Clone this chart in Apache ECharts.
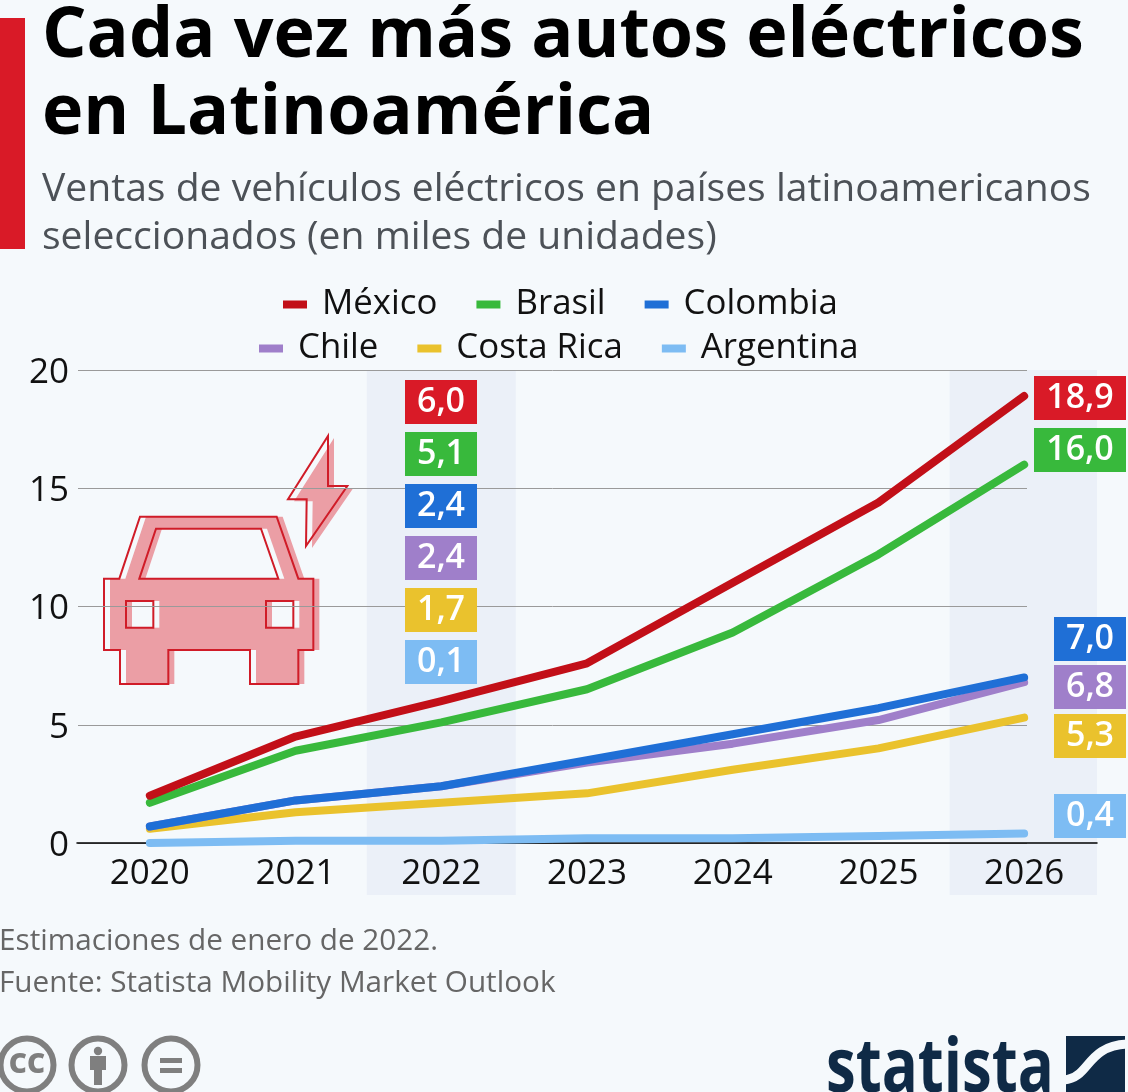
<!DOCTYPE html>
<html>
<head>
<meta charset="utf-8">
<style>html,body{margin:0;padding:0;background:#f5f9fc}#main{width:1128px;height:1092px}</style>
<script src="https://cdn.jsdelivr.net/npm/echarts@6/dist/echarts.min.js"></script>
</head>
<body>
<div id="main"></div>
<script>
const years = ['2020', '2021', '2022', '2023', '2024', '2025', '2026'];
const mexico = [2.0, 4.5, 6.0, 7.6, 11.0, 14.4, 18.9];
const brasil = [1.7, 3.9, 5.1, 6.5, 8.9, 12.2, 16.0];
const colombia = [0.7, 1.8, 2.4, 3.5, 4.6, 5.7, 7.0];
const chile = [0.7, 1.8, 2.4, 3.4, 4.2, 5.2, 6.8];
const costaRica = [0.6, 1.3, 1.7, 2.1, 3.1, 4.0, 5.3];
const argentina = [0.0, 0.1, 0.1, 0.2, 0.2, 0.3, 0.4];
const highlighted = [0, 0, 1, 0, 0, 0, 1];

const FONT = '"Open Sans"';
const BG = '#f5f9fc';
const list = [
  { name: 'Argentina', data: argentina, line: '#7dbcf3', box: '#7dbcf3' },
  { name: 'Costa Rica', data: costaRica, line: '#eac22d', box: '#eac22d' },
  { name: 'Chile', data: chile, line: '#9f7fca', box: '#9f7fca' },
  { name: 'Colombia', data: colombia, line: '#1f6fd6', box: '#1f6fd6' },
  { name: 'Brasil', data: brasil, line: '#38b93c', box: '#38b93c' },
  { name: 'México', data: mexico, line: '#c20f18', box: '#d91a27' }
];
const boxes2022 = ['México', 'Brasil', 'Colombia', 'Chile', 'Costa Rica', 'Argentina'];
const boxes2026 = [['México', 376, 92], ['Brasil', 428, 92], ['Colombia', 617, 72], ['Chile', 665, 72], ['Costa Rica', 714, 72], ['Argentina', 794, 72]];

const fmt = v => v.toFixed(1).replace('.', ',');
const byName = n => list.find(s => s.name === n);

function box(x, y, w, name, idx) {
  const s = byName(name);
  return {
    type: 'rect', z: 10, shape: { x: x, y: y, width: w, height: 44 }, style: { fill: s.box },
    textContent: { z: 11, style: { text: fmt(s.data[idx]), fill: '#fff', font: '600 34px ' + FONT } },
    textConfig: { position: 'inside' }
  };
}

// car icon, points in 3x crop coordinates
const car = (dx, dy) => [[42,476],[88,476],[150,290],[560,290],[625,476],[670,476],[670,690],[625,690],[625,792],[480,792],[480,690],[235,690],[235,792],[90,792],[90,690],[42,690]].map(p => [90 + (p[0] + dx) / 3, 420 + (p[1] + dy) / 3]);
const win = (dx, dy) => [[148,476],[198,326],[513,326],[565,476]].map(p => [90 + (p[0] + dx) / 3, 420 + (p[1] + dy) / 3]);
const bolt = (dx, dy) => [[714,48],[714,198],[772,198],[648,378],[650,238],[594,238]].map(p => [90 + (p[0] + dx) / 3, 420 + (p[1] + dy) / 3]);
const sq = (x, dx) => ({ x: 90 + (x + dx) / 3, y: 420 + 543 / 3, width: 82 / 3, height: 80 / 3 });
const PINK = '#eb9ea5', RED = '#d01c28', GREY = '#7f7f7f', NAVY = '#0f2a46';
const iconZ = -3;

const graphics = [
  { type: 'rect', shape: { x: 0, y: 18, width: 25, height: 231 }, style: { fill: '#d91a27' } },
  { type: 'polygon', z: iconZ, shape: { points: car(18, 0) }, style: { fill: PINK } },
  { type: 'polygon', z: iconZ, shape: { points: win(18, 0) }, style: { fill: BG } },
  { type: 'rect', z: iconZ, shape: sq(108, 18), style: { fill: BG } },
  { type: 'rect', z: iconZ, shape: sq(528, 18), style: { fill: BG } },
  { type: 'polygon', z: iconZ, shape: { points: bolt(18, 6) }, style: { fill: PINK } },
  { type: 'polygon', z: iconZ, shape: { points: car(0, 0) }, style: { fill: 'none', stroke: RED, lineWidth: 2 } },
  { type: 'polygon', z: iconZ, shape: { points: win(0, 0) }, style: { fill: 'none', stroke: RED, lineWidth: 2 } },
  { type: 'rect', z: iconZ, shape: sq(108, 0), style: { fill: 'none', stroke: RED, lineWidth: 2 } },
  { type: 'rect', z: iconZ, shape: sq(528, 0), style: { fill: 'none', stroke: RED, lineWidth: 2 } },
  { type: 'polygon', z: iconZ, shape: { points: bolt(0, 0) }, style: { fill: 'none', stroke: RED, lineWidth: 2 } },
  // licence icons
  { type: 'circle', shape: { cx: 27, cy: 1065, r: 26.5 }, style: { fill: 'none', stroke: GREY, lineWidth: 6 } },
  { type: 'text', x: 27, y: 1065, style: { text: 'CC', fill: GREY, font: '800 28px ' + FONT, align: 'center', verticalAlign: 'middle' } },
  { type: 'circle', shape: { cx: 98, cy: 1065, r: 26.5 }, style: { fill: 'none', stroke: GREY, lineWidth: 6 } },
  { type: 'circle', shape: { cx: 98, cy: 1051, r: 4.2 }, style: { fill: GREY } },
  { type: 'rect', shape: { x: 90, y: 1056, width: 16, height: 14 }, style: { fill: GREY } },
  { type: 'rect', shape: { x: 94, y: 1070, width: 8, height: 15 }, style: { fill: GREY } },
  { type: 'circle', shape: { cx: 171, cy: 1065, r: 26.5 }, style: { fill: 'none', stroke: GREY, lineWidth: 6 } },
  { type: 'rect', shape: { x: 160, y: 1058, width: 22, height: 5 }, style: { fill: GREY } },
  { type: 'rect', shape: { x: 160, y: 1068, width: 22, height: 5 }, style: { fill: GREY } },
  // statista logo
  { type: 'text', x: 826, y: 1032, scaleX: 0.787, style: { text: 'statista', fill: NAVY, font: 'bold 76px ' + FONT, verticalAlign: 'top' } },
  { type: 'rect', shape: { x: 1066, y: 1036, width: 59, height: 56 }, style: { fill: NAVY } },
  { type: 'bezierCurve', shape: { x1: 1064, y1: 1080, cpx1: 1090, cpy1: 1078, cpx2: 1086, cpy2: 1046, x2: 1127, y2: 1044 }, style: { fill: 'none', stroke: BG, lineWidth: 9 } }
];
boxes2022.forEach((n, i) => graphics.push(box(405, 380 + i * 52, 72, n, 2)));
boxes2026.forEach(b => graphics.push(box(1126 - b[2], b[1], b[2], b[0], 6)));

const legendStyle = { itemWidth: 24, itemHeight: 8, icon: 'rect', itemGap: 39, padding: 0, textStyle: { fontFamily: FONT, fontSize: 34.8, color: '#111', padding: [0, 0, 0, 10] } };

const series = list.map(s => ({
  name: s.name, type: 'line', data: s.data, xAxisIndex: 0, yAxisIndex: 0,
  showSymbol: false, symbol: 'none', clip: false, z: 3,
  lineStyle: { color: s.line, width: 8, cap: 'round', join: 'round' },
  itemStyle: { color: s.line }
}));
series.unshift({
  name: 'banda', type: 'bar', data: highlighted, xAxisIndex: 2, yAxisIndex: 2, barWidth: 149, z: -5,
  itemStyle: { color: '#ebf0f8' }, silent: true
});

const myChart = echarts.init(document.querySelector('#main'));
const option = {
  animation: false,
  backgroundColor: BG,
  title: [
    { text: 'Cada vez más autos eléctricos\nen Latinoamérica', left: 42, top: -1, padding: 0, textStyle: { fontFamily: FONT, fontWeight: 700, fontSize: 70, lineHeight: 77, color: '#000' } },
    { text: 'Ventas de vehículos eléctricos en países latinoamericanos\nseleccionados (en miles de unidades)', left: 42, top: 166, padding: 0, textStyle: { fontFamily: FONT, fontWeight: 400, fontSize: 39.1, lineHeight: 48, color: '#4c5157' } },
    { text: 'Estimaciones de enero de 2022.\nFuente: Statista Mobility Market Outlook', left: -1, top: 921, padding: 0, textStyle: { fontFamily: FONT, fontWeight: 400, fontSize: 29.7, lineHeight: 42, color: '#666' } }
  ],
  legend: [
    Object.assign({ left: 283, top: 287, data: ['México', 'Brasil', 'Colombia'] }, legendStyle),
    Object.assign({ left: 259, top: 331, data: ['Chile', 'Costa Rica', 'Argentina'] }, legendStyle)
  ],
  grid: [
    { left: 77, right: 31, top: 370, height: 473 },
    { left: 78, right: 101, top: 370, height: 473 },
    { left: 77, right: 31, top: 370, height: 525 }
  ],
  xAxis: [
    { type: 'category', data: years, gridIndex: 0, axisTick: { show: false }, axisLine: { lineStyle: { color: '#000', width: 1.5 } }, axisLabel: { color: '#111', fontFamily: FONT, fontSize: 35, margin: 14 } },
    { type: 'category', data: years, gridIndex: 1, show: false },
    { type: 'category', data: years, gridIndex: 2, show: false }
  ],
  yAxis: [
    { type: 'value', min: 0, max: 20, interval: 5, gridIndex: 0, splitLine: { show: false }, axisLine: { show: false }, axisTick: { show: false },
      axisLabel: { margin: 8, formatter: v => '{a|' + v + '}', rich: { a: { color: '#111', fontFamily: FONT, fontSize: 35, padding: [6, 0, 0, 0] } } } },
    { type: 'value', min: 0, max: 20, interval: 5, gridIndex: 1, axisLine: { show: false }, axisTick: { show: false }, axisLabel: { show: false }, splitLine: { show: true, lineStyle: { color: '#9a9a9a', width: 1 } } },
    { type: 'value', min: 0, max: 1, gridIndex: 2, show: false, splitLine: { show: false } }
  ],
  graphic: graphics,
  series: series
};
option && myChart.setOption(option);
</script>
</body>
</html>
